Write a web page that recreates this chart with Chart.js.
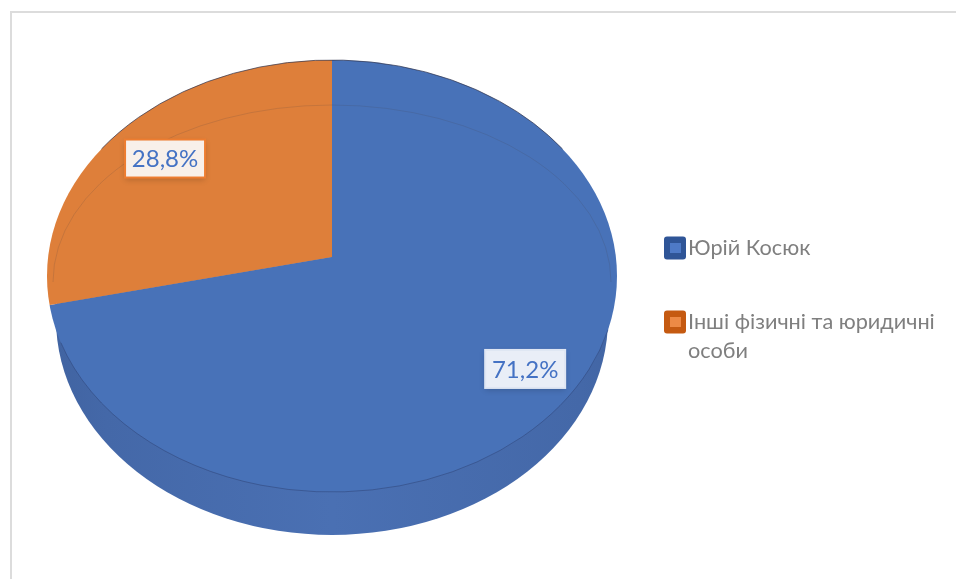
<!DOCTYPE html>
<html lang="uk">
<head>
  <meta charset="UTF-8" />
  <title>Pie chart</title>
  <script src="https://cdn.jsdelivr.net/npm/chart.js"></script>
  <style>
    body { margin: 0; background: #fff; }
    canvas { display: block; }
  </style>
</head>
<body>
<canvas id="chart" width="956" height="579"></canvas>

<script>
const names = ["Юрій Косюк", "Інші фізичні та юридичні особи"];
const values = [71.2, 28.8];
const valueLabels = ["71,2%", "28,8%"];
const legendLines = [["Юрій Косюк"], ["Інші фізичні та юридичні", "особи"]];

const fills = ["#4872b8", "#de7f3a"];
const swatchOuter = ["#2f5597", "#c55a11"];
const swatchInner = ["#4e7ac7", "#ed8a45"];
const boxBorder = ["#dfe6f3", "#ed7d31"];
const boxFill = ["#e9eef7", "#f8f0ea"];

const FONT = "Lato, 'Open Sans', sans-serif";

// perspective look: the wedges meet above the middle of the rim ellipse.
// the arcs are stretched past the rim and cut back to it by a clip
const stretchX = 2.05;
const stretchY = 1.435;
const rimRx = 285, rimRy = 216, rimDrop = 19;
const wallDepth = 43, wallRx = 276;

function drawCut(ctx, arc, ex, ey, rx, ry, fill) {
  ctx.save();
  ctx.beginPath();
  ctx.ellipse(ex, ey, rx, ry, 0, 0, Math.PI * 2);
  ctx.clip();
  ctx.translate(arc.x, arc.y);
  ctx.scale(stretchX, stretchY);
  ctx.translate(-arc.x, -arc.y);
  const saved = arc.options;
  if (fill) {
    const o = Object.create(saved);
    o.backgroundColor = fill;
    arc.options = o;
  }
  arc.draw(ctx);
  arc.options = saved;
  ctx.restore();
}

const discPlugin = {
  id: "disc",
  beforeDatasetsDraw(chart) {
    const ctx = chart.ctx;
    const arcs = chart.getDatasetMeta(0).data;
    const cx = arcs[0].x, ey = arcs[0].y + rimDrop;

    // frame
    ctx.save();
    ctx.strokeStyle = "#dcdcdc";
    ctx.lineWidth = 2;
    ctx.beginPath();
    ctx.moveTo(11, chart.height);
    ctx.lineTo(11, 12);
    ctx.lineTo(chart.width, 12);
    ctx.stroke();
    ctx.restore();

    // side wall
    const wall = ctx.createLinearGradient(cx - wallRx, 0, cx + wallRx, 0);
    wall.addColorStop(0, "#1b2c4e");
    wall.addColorStop(0.05, "#263d6b");
    wall.addColorStop(0.15, "#3a5a93");
    wall.addColorStop(0.3, "#4468a8");
    wall.addColorStop(0.5, "#4a70b3");
    wall.addColorStop(0.72, "#4468a8");
    wall.addColorStop(0.87, "#3a5a93");
    wall.addColorStop(0.95, "#263d6b");
    wall.addColorStop(1, "#1b2c4e");
    arcs.forEach(arc => drawCut(ctx, arc, cx, ey + wallDepth, wallRx, rimRy, wall));

    // top face
    arcs.forEach(arc => drawCut(ctx, arc, cx, ey, rimRx, rimRy));

    ctx.save();
    ctx.lineWidth = 1;

    // dark edge on the far rim
    ctx.strokeStyle = "rgba(45,50,75,0.7)";
    ctx.beginPath();
    ctx.ellipse(cx, ey, rimRx, rimRy, 0, Math.PI * 1.2, Math.PI * 1.8);
    ctx.stroke();

    // faint bevel line
    ctx.strokeStyle = "rgba(70,60,70,0.16)";
    ctx.beginPath();
    ctx.ellipse(cx, ey + 6, rimRx - 6, rimRy - 39, 0, Math.PI, Math.PI * 2);
    ctx.stroke();

    // dark edge under the near face
    ctx.strokeStyle = "rgba(45,65,115,0.5)";
    ctx.beginPath();
    ctx.ellipse(cx, ey, rimRx, rimRy, 0, Math.PI * 0.08, Math.PI * 0.9);
    ctx.stroke();
    ctx.restore();
    return false;
  },
  afterDraw(chart) {
    const ctx = chart.ctx;
    const arcs = chart.getDatasetMeta(0).data;

    // value boxes, placed along each wedge's middle angle
    const reachX = [0.862, 0.745];
    const reachY = [0.771, 0.809];
    const scaleX = rimRx / arcs[0].outerRadius;
    const scaleNear = (rimRy + rimDrop) / arcs[0].outerRadius;
    arcs.forEach((arc, i) => {
      const mid = (arc.startAngle + arc.endAngle) / 2;
      const dy = Math.sin(mid) * arc.outerRadius * reachY[i];
      const x = arc.x + Math.cos(mid) * arc.outerRadius * scaleX * reachX[i];
      const y = arc.y + dy * (dy > 0 ? scaleNear : 1);
      const w = 80, h = 38;
      ctx.save();
      ctx.shadowColor = "rgba(0,0,0,0.18)";
      ctx.shadowBlur = 6;
      ctx.shadowOffsetY = 2;
      ctx.fillStyle = boxFill[i];
      ctx.fillRect(x - w / 2, y - h / 2, w, h);
      ctx.restore();
      ctx.save();
      ctx.strokeStyle = boxBorder[i];
      ctx.lineWidth = 2;
      ctx.strokeRect(x - w / 2, y - h / 2, w, h);
      ctx.fillStyle = "#4472c4";
      ctx.font = "24px " + FONT;
      ctx.textAlign = "center";
      ctx.textBaseline = "middle";
      ctx.fillText(valueLabels[i], x, y + 1);
      ctx.restore();
    });

    // legend
    const legendY = [248, 322];
    names.forEach((name, i) => {
      const y = legendY[i];
      ctx.save();
      ctx.fillStyle = swatchOuter[i];
      ctx.beginPath();
      ctx.roundRect(664, y - 11.5, 22, 23, 3);
      ctx.fill();
      ctx.fillStyle = swatchInner[i];
      ctx.fillRect(670, y - 5, 11, 10);
      ctx.fillStyle = "#7f7f7f";
      ctx.font = "21.7px " + FONT;
      ctx.textBaseline = "middle";
      legendLines[i].forEach((line, k) => ctx.fillText(line, 688, y + k * 29.5));
      ctx.restore();
    });
  }
};

new Chart(document.getElementById("chart"), {
  type: "pie",
  data: {
    labels: names,
    datasets: [{
      data: values,
      backgroundColor: fills,
      borderWidth: 0
    }]
  },
  options: {
    responsive: false,
    animation: false,
    layout: { padding: { top: 60, left: 47, bottom: 125, right: 339 } },
    plugins: { legend: { display: false }, tooltip: { enabled: false } }
  },
  plugins: [discPlugin]
});
</script>
</body>
</html>
